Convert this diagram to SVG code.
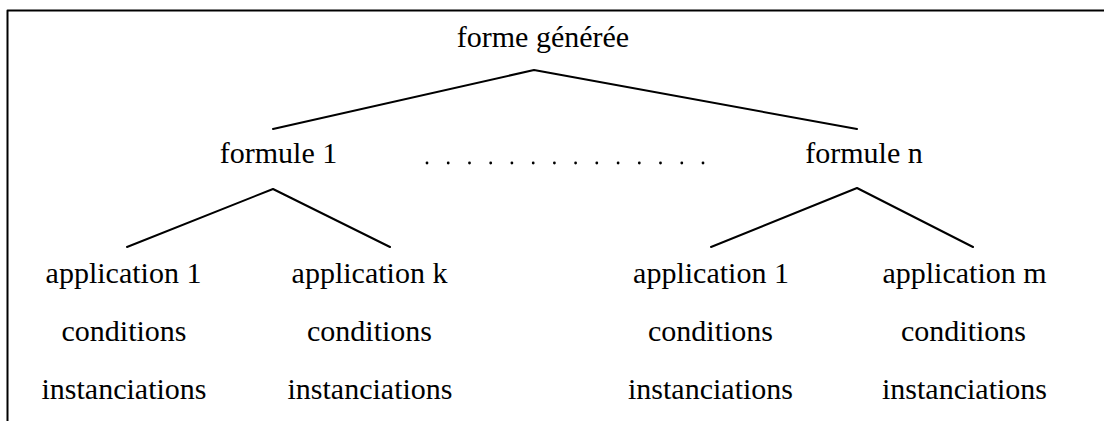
<svg xmlns="http://www.w3.org/2000/svg" width="1104" height="421" viewBox="0 0 1104 421">
<style>
  .t { font-family: "Liberation Serif", "DejaVu Serif", serif; font-size: 30px; fill: #000; text-anchor: middle; }
  .ln { stroke: #000; stroke-width: 2; fill: none; stroke-linecap: round; stroke-linejoin: round; }
  .dot { fill: #000; }
</style>
<rect x="0" y="0" width="1104" height="421" fill="#fff"/>
<g id="frame">
  <path class="ln" d="M7.5,421 L7.5,10.5 L1104,10.5" stroke-linecap="butt"/>
</g>
<g id="connectors">
  <polyline class="ln" points="273,129 534,70 857,129"/>
  <polyline class="ln" points="127,247 273,189 390,247"/>
  <polyline class="ln" points="711,247 857,188 973,247"/>
</g>
<g id="root"><text class="t" x="543" y="47">forme générée</text></g>
<g id="formule1"><text class="t" x="278.5" y="163">formule 1</text></g>
<g id="ellipsis">
  <circle class="dot" cx="427" cy="163" r="1.4"/>
  <circle class="dot" cx="448.2" cy="163" r="1.4"/>
  <circle class="dot" cx="469.5" cy="163" r="1.4"/>
  <circle class="dot" cx="490.7" cy="163" r="1.4"/>
  <circle class="dot" cx="511.9" cy="163" r="1.4"/>
  <circle class="dot" cx="533.2" cy="163" r="1.4"/>
  <circle class="dot" cx="554.4" cy="163" r="1.4"/>
  <circle class="dot" cx="575.6" cy="163" r="1.4"/>
  <circle class="dot" cx="596.8" cy="163" r="1.4"/>
  <circle class="dot" cx="618.1" cy="163" r="1.4"/>
  <circle class="dot" cx="639.3" cy="163" r="1.4"/>
  <circle class="dot" cx="660.5" cy="163" r="1.4"/>
  <circle class="dot" cx="681.8" cy="163" r="1.4"/>
  <circle class="dot" cx="703" cy="163" r="1.4"/>
</g>
<g id="formulen"><text class="t" x="864" y="163">formule n</text></g>
<g id="app1a">
  <text class="t" x="123.5" y="283">application 1</text>
  <text class="t" x="124" y="341">conditions</text>
  <text class="t" x="124" y="399">instanciations</text>
</g>
<g id="appk">
  <text class="t" x="369.5" y="283">application k</text>
  <text class="t" x="369.5" y="341">conditions</text>
  <text class="t" x="370" y="399">instanciations</text>
</g>
<g id="app1b">
  <text class="t" x="711" y="283">application 1</text>
  <text class="t" x="710.5" y="341">conditions</text>
  <text class="t" x="710.5" y="399">instanciations</text>
</g>
<g id="appm">
  <text class="t" x="964.5" y="283">application m</text>
  <text class="t" x="963.5" y="341">conditions</text>
  <text class="t" x="964.5" y="399">instanciations</text>
</g>
</svg>
